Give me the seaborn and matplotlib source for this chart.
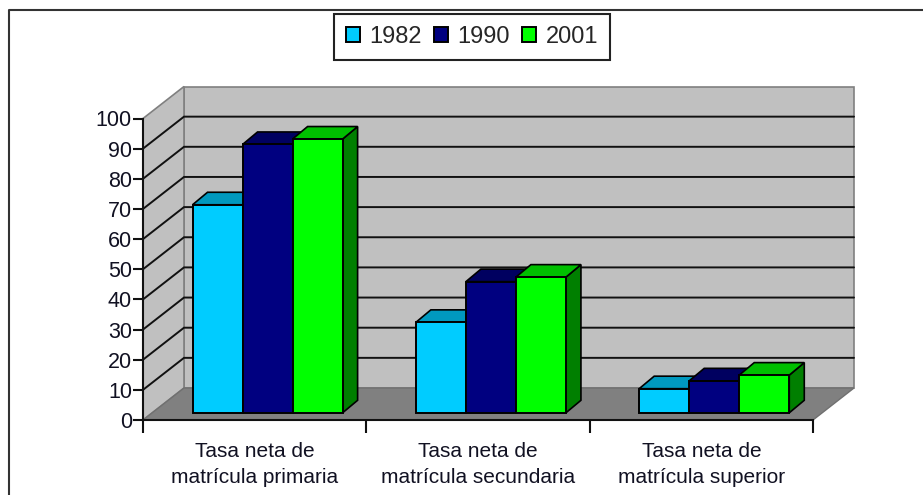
import matplotlib
matplotlib.use("Agg")
import matplotlib.pyplot as plt
from matplotlib.lines import Line2D
from matplotlib.patches import Polygon
import pandas as pd
import seaborn as sns

categories = ["Tasa neta de\nmatrícula primaria",
              "Tasa neta de\nmatrícula secundaria",
              "Tasa neta de\nmatrícula superior"]
years = ["1982", "1990", "2001"]
values_1982 = [69, 30, 8]
values_1990 = [89, 43.5, 10.6]
values_2001 = [90.8, 45, 12.5]
front_colors = ["#00CCFF", "#000080", "#00FF00"]
top_colors = ["#0099BF", "#000060", "#00BF00"]
side_colors = ["#007F9F", "#000040", "#007F00"]
y_ticks = list(range(0, 101, 10))

W, H = 923, 495
sns.set_theme(style="white")
plt.rcParams["font.family"] = ["Liberation Sans", "DejaVu Sans"]

df = pd.DataFrame({
    "categoria": categories * 3,
    "anio": [y for y in years for _ in categories],
    "valor": values_1982 + values_1990 + values_2001,
})

fig = plt.figure(figsize=(W / 100, H / 100), dpi=100, facecolor="white")
L, R, T, B = 143, 813, 118.5, 420
ax = fig.add_axes([L / W, 1 - B / H, (R - L) / W, (B - T) / H])
ax.patch.set_alpha(0)

sns.barplot(data=df, x="categoria", y="valor", hue="anio", palette=front_colors,
            hue_order=years, order=categories, width=0.672, gap=0, dodge=True,
            edgecolor="black", linewidth=1.4, saturation=1, ax=ax, zorder=5)
ax.set_xlim(-0.5, 2.5)
ax.set_ylim(0, 100)
ax.set_xlabel("")
ax.set_ylabel("")

px_x = 3.0 / (R - L)
px_y = 100.0 / (B - T)
wall_dx, wall_dy = 41 * px_x, 32 * px_y
bar_dx, bar_dy = 12.9 * px_x, 7.2 * px_y
depth_dx, depth_dy = 15 * px_x, 12.5 * px_y

# Walls and floor
x0, x1 = -0.5, 2.5
wall = "#C0C0C0"
edge = "#808080"
ax.add_patch(Polygon([(x0 + wall_dx, wall_dy), (x1 + wall_dx, wall_dy),
                      (x1 + wall_dx, 100 + wall_dy), (x0 + wall_dx, 100 + wall_dy)],
                     fc=wall, ec=edge, lw=1.2, clip_on=False, zorder=1))
ax.add_patch(Polygon([(x0, 0), (x0, 100), (x0 + wall_dx, 100 + wall_dy), (x0 + wall_dx, wall_dy)],
                     fc=wall, ec=edge, lw=1.2, clip_on=False, zorder=1))
ax.add_patch(Polygon([(x0, 0), (x1, 0), (x1 + wall_dx, wall_dy), (x0 + wall_dx, wall_dy)],
                     fc="#808080", ec="#707070", lw=1.0, clip_on=False, zorder=1))
for v in y_ticks[1:-1]:
    ax.plot([x0, x0 + wall_dx, x1 + wall_dx], [v, v + wall_dy, v + wall_dy],
            color="#111111", lw=1.4, clip_on=False, zorder=2, solid_joinstyle="miter")

# Bars: shift onto the floor and give them depth
rects = [p for c in ax.containers for p in c]
for i, rect in enumerate(sorted(rects, key=lambda p: p.get_x())):
    hue = i % 3
    rect.set_x(rect.get_x() + bar_dx)
    rect.set_y(bar_dy)
    xa, xb = rect.get_x(), rect.get_x() + rect.get_width()
    yb, yt = rect.get_y(), rect.get_y() + rect.get_height()
    z = 5 + i * 0.1
    rect.set_zorder(z + 0.02)
    rect.set_clip_on(False)
    ax.add_patch(Polygon([(xb, yb), (xb + depth_dx, yb + depth_dy),
                          (xb + depth_dx, yt + depth_dy), (xb, yt)],
                         fc=side_colors[hue], ec="black", lw=1.2, zorder=z, clip_on=False))
    ax.add_patch(Polygon([(xa, yt), (xa + depth_dx, yt + depth_dy),
                          (xb + depth_dx, yt + depth_dy), (xb, yt)],
                         fc=top_colors[hue], ec="black", lw=1.2, zorder=z + 0.01, clip_on=False))

# Axes
for s in ("top", "right"):
    ax.spines[s].set_visible(False)
for s in ("left", "bottom"):
    ax.spines[s].set_color("#111111")
    ax.spines[s].set_linewidth(1.5)
    ax.spines[s].set_zorder(4)
ax.set_yticks(y_ticks)
ax.set_xticks([0, 1, 2])
ax.set_xticklabels(categories)
ax.set_xticks([-0.5, 0.5, 1.5, 2.5], minor=True)
ax.tick_params(axis="y", left=True, length=7, width=1.5, color="#111111", pad=1,
               labelsize=15.5, labelcolor="#111122")
ax.tick_params(axis="x", which="major", bottom=False, length=0, pad=15.5,
               labelsize=15, labelcolor="#111122")
ax.tick_params(axis="x", which="minor", bottom=True, length=9, width=1.5, color="#111111")
for lab in ax.get_xticklabels():
    lab.set_linespacing(1.5)

# Legend
handles, labels = ax.get_legend_handles_labels()
ax.legend(handles, labels, ncol=3, loc="center", bbox_to_anchor=(472 / W, 1 - 37 / H),
          bbox_transform=fig.transFigure, fontsize=17, frameon=True, fancybox=False,
          edgecolor="#222222", facecolor="white", framealpha=1,
          handlelength=0.6, handleheight=0.6, handletextpad=0.4, columnspacing=0.5,
          borderpad=0.5, borderaxespad=0)
ax.get_legend().get_frame().set_linewidth(1.5)
ax.get_legend().set_zorder(20)

# Outer chart frame
fig.add_artist(Line2D([9 / W, 9 / W, 1], [0, 1 - 9.5 / H, 1 - 9.5 / H],
                      color="#333333", lw=1.5, transform=fig.transFigure))

fig.savefig("out.png", dpi=100)
